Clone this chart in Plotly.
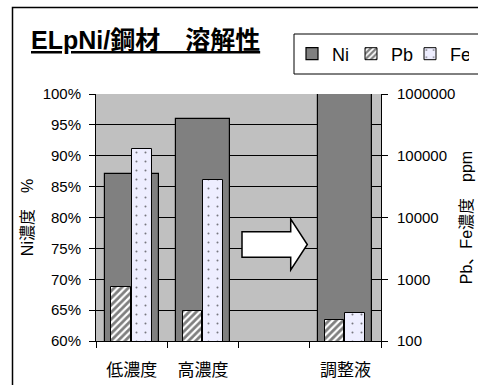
import plotly.graph_objects as go

categories = ["低濃度", "高濃度", " ", "調整液"]
ni_values = [0.87, 0.96, None, 1.00]          # Ni濃度 (fraction)
pb_values = [750, 310, None, 220]             # Pb濃度 ppm
fe_values = [130000, 41000, None, 285]        # Fe濃度 ppm
y1_ticks = [0.60, 0.65, 0.70, 0.75, 0.80, 0.85, 0.90, 0.95, 1.00]
y2_ticks = [100, 1000, 10000, 100000, 1000000]
y2_ticktext = ["100", "1000", "10000", "100000", "1000000"]

W, H = 478, 385
L, R, T, B = 96, 97, 94, 44
PW, PH = W - L - R, H - T - B

def px(x):
    return (x - L) / PW

def py(y):
    return (H - B - y) / PH

FONT = "Liberation Sans, Arial, Noto Sans CJK JP, sans-serif"

fig = go.Figure()
fig.add_trace(go.Bar(
    x=categories, y=ni_values, name="Ni", yaxis="y",
    width=0.76, offset=-0.38,
    marker=dict(color="#808080", line=dict(color="black", width=1.2)),
))
fig.add_trace(go.Bar(
    x=categories, y=pb_values, name="Pb", yaxis="y2",
    width=0.27, offset=-0.285,
    marker=dict(color="white", line=dict(color="black", width=1),
                pattern=dict(shape="/", fgcolor="black", bgcolor="white",
                             size=5, solidity=0.55)),
))
fig.add_trace(go.Bar(
    x=categories, y=fe_values, name="Fe", yaxis="y2",
    width=0.28, offset=0.0,
    marker=dict(color="#EEEEFF", line=dict(color="black", width=1),
                pattern=dict(shape=".", fgcolor="black", bgcolor="#EEEEFF",
                             size=9, solidity=0.04)),
))

# arrow (decoration)
arrow_pts = [(242, 231.7), (290.7, 231.7), (290.7, 219), (307.3, 244.5),
             (290.7, 270), (290.7, 257.3), (242, 257.3)]
path = "M " + " L ".join(f"{px(a):.4f},{py(b):.4f}" for a, b in arrow_pts) + " Z"

shapes = [
    dict(type="path", xref="paper", yref="paper", path=path,
         fillcolor="white", line=dict(color="black", width=1.5), layer="above"),
    # outer chart frame
    dict(type="rect", xref="paper", yref="paper",
         x0=px(12.5), x1=px(500), y0=py(420), y1=py(7.5),
         line=dict(color="black", width=1.5), fillcolor="rgba(0,0,0,0)", layer="below"),
    # legend frame
    dict(type="rect", xref="paper", yref="paper",
         x0=px(294), x1=px(500), y0=py(74), y1=py(34),
         line=dict(color="black", width=1), fillcolor="white", layer="below"),
]

annotations = [
    dict(text="<b><u>ELpNi/鋼材　溶解性</u></b>", xref="paper", yref="paper",
         x=px(29), y=py(40), xanchor="left", yanchor="middle", showarrow=False,
         font=dict(size=25, color="black", family="Liberation Sans, Noto Sans CJK JP")),
    dict(text="に適した溶解材料が必要である。", xref="paper", yref="paper",
         x=px(20), y=py(3), xanchor="left", yanchor="bottom", showarrow=False,
         font=dict(size=28, color="black", family="Noto Sans CJK JP")),
]

fig.update_layout(
    width=W, height=H,
    margin=dict(l=L, r=R, t=T, b=B, pad=0, autoexpand=False),
    paper_bgcolor="white", plot_bgcolor="#C0C0C0",
    barmode="overlay", bargap=0,
    font=dict(family=FONT, size=15, color="black"),
    showlegend=True,
    legend=dict(orientation="h", x=px(292), y=py(54), xanchor="left", yanchor="middle",
                bgcolor="rgba(0,0,0,0)", borderwidth=0, itemwidth=30,
                entrywidth=14, entrywidthmode="pixels",
                font=dict(size=18, family=FONT), traceorder="normal"),
    xaxis=dict(type="category", categoryorder="array", categoryarray=categories,
               range=[-0.5, 3.5], tickson="boundaries", ticks="outside", ticklen=6,
               tickcolor="black", showline=True, linecolor="black", linewidth=1,
               showgrid=False, tickfont=dict(size=17), ticklabelstandoff=14,
               fixedrange=True),
    yaxis=dict(range=[0.6, 1.0], tickvals=y1_ticks, tickformat=".0%",
               ticks="outside", ticklen=6, tickcolor="black",
               showline=True, linecolor="black", linewidth=1,
               showgrid=True, gridcolor="black", gridwidth=1, zeroline=False,
               title=dict(text="Ni濃度　%", standoff=5, font=dict(size=16)),
               ticklabelstandoff=5),
    yaxis2=dict(type="log", range=[2, 6], overlaying="y", side="right",
                tickvals=y2_ticks, ticktext=y2_ticktext,
                ticks="outside", ticklen=6, tickcolor="black",
                showline=True, linecolor="black", linewidth=1, showgrid=False,
                zeroline=False,
                title=dict(text="Pb、Fe濃度　ppm", standoff=6, font=dict(size=16)),
                ticklabelstandoff=6),
    shapes=shapes, annotations=annotations,
)

fig.write_html("out.html")
